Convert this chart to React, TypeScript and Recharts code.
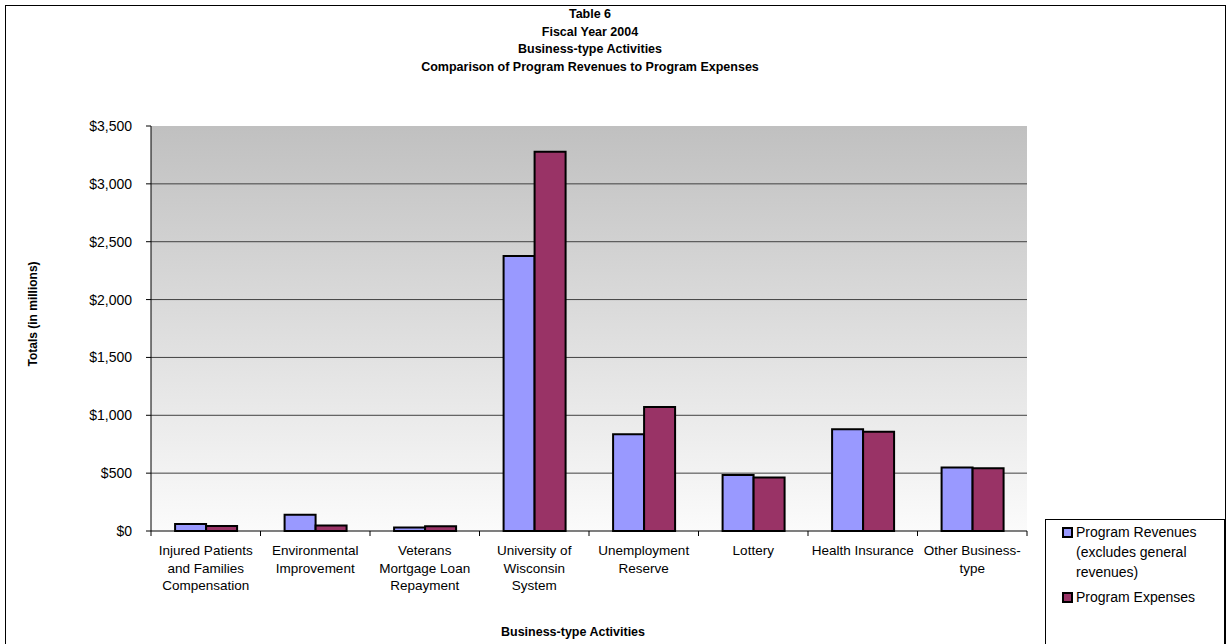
import React from "react"
import { BarChart, Bar, XAxis, YAxis, CartesianGrid } from "recharts"

// values (millions of dollars)
const categories = [
  "Injured Patients\nand Families\nCompensation",
  "Environmental\nImprovement",
  "Veterans\nMortgage Loan\nRepayment",
  "University of\nWisconsin\nSystem",
  "Unemployment\nReserve",
  "Lottery",
  "Health Insurance",
  "Other Business-\ntype",
]
const programRevenues = [60, 141, 30, 2377, 836, 484, 879, 548]
const programExpenses = [43, 48, 42, 3278, 1072, 462, 858, 542]
const yTicks = [0, 500, 1000, 1500, 2000, 2500, 3000, 3500]
const titleLines = [
  "Table 6",
  "Fiscal Year 2004",
  "Business-type Activities",
  "Comparison of Program Revenues to Program Expenses",
]
const legendItems = [
  { color: "#9999ff", lines: ["Program Revenues", "(excludes general", "revenues)"] },
  { color: "#993366", lines: ["Program Expenses"] },
]

const data = categories.map((name, i) => ({
  name,
  revenues: programRevenues[i],
  expenses: programExpenses[i],
}))

const FONT = "'Liberation Sans', Arial, sans-serif"
const W = 1230
const H = 644
const PLOT_LEFT = 151
const PLOT_RIGHT = 1027
const PLOT_TOP = 126
const PLOT_BOTTOM = 531
const Y_AXIS_W = 70
const X_AXIS_H = 80
const band = (PLOT_RIGHT - PLOT_LEFT) / categories.length

const fmt = (v: number) => "$" + v.toLocaleString("en-US")

function CategoryTick(props: any) {
  const { x, y, payload, index } = props
  const lines = String(payload.value).split("\n")
  const left = x - band / 2
  return (
    <g>
      <line x1={left} x2={left} y1={y} y2={y + 5} stroke="#000" />
      {index === categories.length - 1 && (
        <line x1={x + band / 2} x2={x + band / 2} y1={y} y2={y + 5} stroke="#000" />
      )}
      <text textAnchor="middle" fontFamily={FONT} fontSize={13.5} fill="#000">
        {lines.map((l, i) => (
          <tspan key={i} x={x} y={y + 24 + i * 17.5}>
            {l}
          </tspan>
        ))}
      </text>
    </g>
  )
}

function LegendBox() {
  return (
    <div
      style={{
        position: "absolute",
        left: 1045,
        top: 519,
        border: "1px solid #000",
        background: "#fff",
        width: 180,
        height: 140,
        boxSizing: "border-box",
        padding: "2px 0 0 16px",
        fontFamily: FONT,
        fontSize: 14,
        lineHeight: "20px",
        color: "#000",
      }}
    >
      {legendItems.map((it, i) => (
        <div key={i} style={{ display: "flex", alignItems: "flex-start", marginBottom: 5 }}>
          <span
            style={{
              display: "inline-block",
              width: 7,
              height: 7,
              marginTop: 5,
              marginRight: 3,
              background: it.color,
              border: "2px solid #000",
              flex: "none",
            }}
          />
          <span>
            {it.lines.map((l, j) => (
              <div key={j}>{l}</div>
            ))}
          </span>
        </div>
      ))}
    </div>
  )
}

export default function App() {
  return (
    <div style={{ position: "absolute", left: 0, top: 0, width: W, height: H, background: "#fff", overflow: "hidden" }}>
      <div
        style={{
          position: "absolute",
          left: 5,
          top: 5,
          width: 1219,
          height: 700,
          border: "1px solid #000",
        }}
      />
      <div
        style={{
          position: "absolute",
          left: 0,
          top: 6,
          width: 1180,
          textAlign: "center",
          fontFamily: FONT,
          fontWeight: "bold",
          fontSize: 12.5,
          lineHeight: "17.5px",
        }}
      >
        {titleLines.map((t) => (
          <div key={t}>{t}</div>
        ))}
      </div>
      <div
        style={{
          position: "absolute",
          left: 33,
          top: 314,
          transform: "translate(-50%, -50%) rotate(-90deg)",
          whiteSpace: "nowrap",
          fontFamily: FONT,
          fontWeight: "bold",
          fontSize: 12,
        }}
      >
        Totals (in millions)
      </div>
      <div
        style={{
          position: "absolute",
          left: 573,
          top: 632,
          transform: "translate(-50%, -50%)",
          whiteSpace: "nowrap",
          fontFamily: FONT,
          fontWeight: "bold",
          fontSize: 12.5,
        }}
      >
        Business-type Activities
      </div>
      <div style={{ position: "absolute", left: 0, top: 0 }}>
        <BarChart
          width={W}
          height={H}
          data={data}
          margin={{
            top: PLOT_TOP,
            right: W - PLOT_RIGHT,
            bottom: H - PLOT_BOTTOM - X_AXIS_H,
            left: PLOT_LEFT - Y_AXIS_W,
          }}
          barGap={0}
          barCategoryGap="22%"
        >
          <defs>
            <linearGradient id="plotBg" x1="0" y1="0" x2="0" y2="1">
              <stop offset="0%" stopColor="#c0c0c0" />
              <stop offset="100%" stopColor="#fbfbfb" />
            </linearGradient>
          </defs>
          <CartesianGrid
            fill="url(#plotBg)"
            fillOpacity={1}
            vertical={false}
            stroke="#404040"
            horizontalValues={yTicks.slice(1, -1)}
          />
          <XAxis
            dataKey="name"
            height={X_AXIS_H}
            interval={0}
            tickLine={false}
            tickSize={0}
            tickMargin={0}
            axisLine={{ stroke: "#000" }}
            tick={<CategoryTick />}
          />
          <YAxis
            width={Y_AXIS_W}
            domain={[0, 3500]}
            ticks={yTicks}
            tickFormatter={fmt}
            tickSize={5}
            tickMargin={14}
            tickLine={{ stroke: "#000" }}
            axisLine={{ stroke: "#000" }}
            tick={{ fontFamily: FONT, fontSize: 14, fill: "#000" }}
          />
          <YAxis
            yAxisId="frame"
            orientation="right"
            width={0}
            domain={[0, 3500]}
            tick={false}
            tickLine={false}
            axisLine={{ stroke: "#b0b0b0" }}
          />
          <Bar
            dataKey="revenues"
            name="Program Revenues (excludes general revenues)"
            fill="#9999ff"
            stroke="#000"
            strokeWidth={2}
            isAnimationActive={false}
          />
          <Bar
            dataKey="expenses"
            name="Program Expenses"
            fill="#993366"
            stroke="#000"
            strokeWidth={2}
            isAnimationActive={false}
          />
        </BarChart>
      </div>
      <LegendBox />
    </div>
  )
}
